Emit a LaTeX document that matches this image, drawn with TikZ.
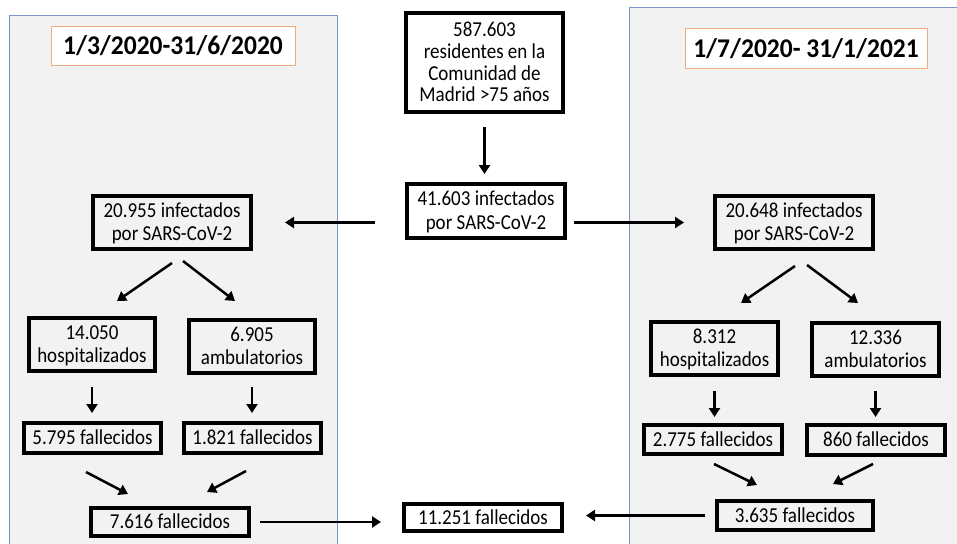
\documentclass[tikz,border=0pt]{standalone}
\usepackage{fontspec}
\usepackage{graphicx}
\setmainfont{Carlito}
\usetikzlibrary{arrows.meta,calc}
\definecolor{panelfill}{RGB}{242,242,242}
\definecolor{panelline}{RGB}{120,150,198}
\definecolor{titleline}{RGB}{240,172,124}
\newcommand\vt[1]{\raisebox{0pt}[\height][\dimexpr\depth-4pt\relax]{\scalebox{1}[1.12]{\begin{tabular}{@{}c@{}}#1\end{tabular}}}}
\tikzset{
  box/.style={draw=black, line width=4pt, inner sep=0pt, align=center,
    font=\fontsize{19}{21}\selectfont},
  titlebox/.style={draw=titleline, line width=1pt, fill=white, inner sep=0pt,
    font=\bfseries\fontsize{25.5}{30}\selectfont},
  arr/.style={line width=2.5pt, -{Triangle[length=9pt,width=11pt]}},
  panel/.style={draw=panelline, line width=0.8pt, fill=panelfill}
}
\begin{document}
\begin{tikzpicture}[x=1pt,y=-1pt]
\useasboundingbox (0,0) rectangle (957,543);
\fill[white] (0,0) rectangle (957,543);
% panels
\draw[panel] (9.5,15) rectangle (337,550);
\draw[panel] (629,7) rectangle (965,550);
% titles
\node[titlebox, minimum width=244pt, minimum height=38pt] (tl) at (173,46) {\scalebox{1}[1.06]{1/3/2020-31/6/2020}};
\node[titlebox, minimum width=242pt, minimum height=39pt] (tr) at (806,48.5) {\scalebox{1}[1.06]{1/7/2020- 31/1/2021}};
% central column
\node[box, minimum width=157pt, minimum height=99pt] (top) at (484.5,62.5) {\vt{587.603\\[-1.5pt]residentes en la\\[-1.5pt]Comunidad de\\[-1.5pt]Madrid >75 años}};
\node[box, minimum width=158pt, minimum height=54pt] (mid) at (486,211) {\vt{41.603 infectados\\por SARS-CoV-2}};
\node[box, minimum width=158pt, minimum height=27pt] (tot) at (483,517.5) {\vt{11.251 fallecidos}};
% left branch
\node[box, minimum width=158pt, minimum height=53pt] (L1) at (172,222.5) {\vt{20.955 infectados\\por SARS-CoV-2}};
\node[box, minimum width=126pt, minimum height=53pt] (L2a) at (92,344.5) {\vt{14.050\\hospitalizados}};
\node[box, minimum width=126pt, minimum height=53pt] (L2b) at (252,346.5) {\vt{6.905\\ambulatorios}};
\node[box, minimum width=137pt, minimum height=30pt] (L3a) at (92.5,438) {\vt{5.795 fallecidos}};
\node[box, minimum width=137pt, minimum height=30pt] (L3b) at (252.5,438) {\vt{1.821 fallecidos}};
\node[box, minimum width=158pt, minimum height=28pt] (L4) at (170,522) {\vt{7.616 fallecidos}};
% right branch
\node[box, minimum width=158pt, minimum height=53pt] (R1) at (794,222.5) {\vt{20.648 infectados\\por SARS-CoV-2}};
\node[box, minimum width=127pt, minimum height=53pt] (R2a) at (714.5,348.5) {\vt{8.312\\hospitalizados}};
\node[box, minimum width=127pt, minimum height=53pt] (R2b) at (875.5,349.5) {\vt{12.336\\ambulatorios}};
\node[box, minimum width=138pt, minimum height=29pt] (R3a) at (713,439.5) {\vt{2.775 fallecidos}};
\node[box, minimum width=138pt, minimum height=30pt] (R3b) at (876,440) {\vt{860 fallecidos}};
\node[box, minimum width=156pt, minimum height=29pt] (R4) at (795,515.5) {\vt{3.635 fallecidos}};
% connectors
\draw[arr, shorten <=13pt, shorten >=8pt] (top.south) -- (top.south|-mid.north);
\draw[arr, shorten <=30pt, shorten >=32pt] (mid.west|-L1.east) -- (L1.east);
\draw[arr, shorten <=7pt, shorten >=29pt] (mid.east|-R1.west) -- (R1.west);
\draw[arr] ($(L1.south)+(0,12)$) -- ($(L2a.north)+(25,-15)$);
\draw[arr] ($(L1.south)+(11,10)$) -- ($(L2b.north)+(-17,-17)$);
\draw[arr] ($(R1.south)+(1,15)$) -- ($(R2a.north)+(26.5,-17)$);
\draw[arr] ($(R1.south)+(13,14)$) -- ($(R2b.north)+(-17.5,-18)$);
\draw[arr, shorten <=14pt, shorten >=8pt] (L2a.south) -- (L2a.south|-L3a.north);
\draw[arr, shorten <=12pt, shorten >=8pt] (L2b.south) -- (L2b.south|-L3b.north);
\draw[arr, shorten <=14pt, shorten >=6pt] (R2a.south) -- (R2a.south|-R3a.north);
\draw[arr, shorten <=13pt, shorten >=6pt] (R2b.south) -- (R2b.south|-R3b.north);
\draw[arr] ($(L3a.south)+(-6.5,17)$) -- ($(L4.north)+(-42,-12)$);
\draw[arr] ($(L3b.south)+(-6.5,16)$) -- ($(L4.north)+(37,-14)$);
\draw[arr] ($(R3a.south)+(1,8)$) -- ($(R4.north)+(-38,-14)$);
\draw[arr] ($(R3b.south)+(-3,7)$) -- ($(R4.north)+(38,-15)$);
\draw[arr, shorten <=9pt, shorten >=21pt] (L4.east) -- (tot.west|-L4.east);
\draw[arr, shorten <=10pt, shorten >=22pt] (R4.west) -- (tot.east|-R4.west);
\end{tikzpicture}
\end{document}
